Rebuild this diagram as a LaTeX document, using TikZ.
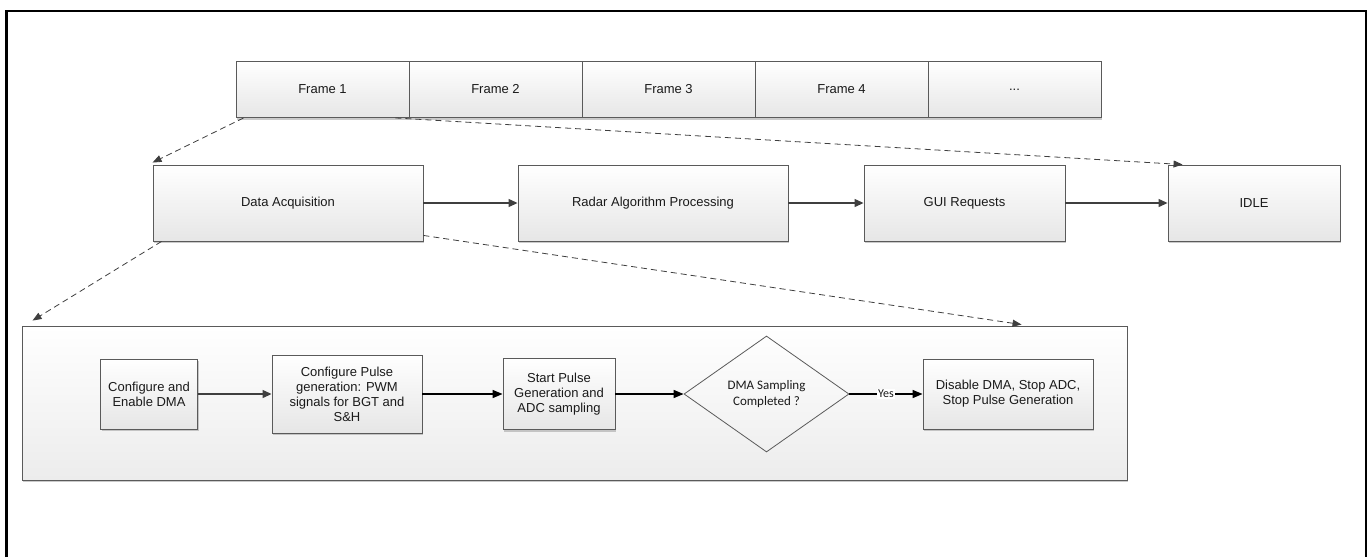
\documentclass[tikz,border=0pt]{standalone}
\usepackage{fontspec}
\setmainfont{Liberation Sans}
\newfontfamily\calibri{Carlito}
\usetikzlibrary{shapes.geometric,arrows.meta,shadows,calc}

\definecolor{boxline}{HTML}{5A5A5A}
\definecolor{boxbot}{HTML}{E6E6E6}
\definecolor{panelbot}{HTML}{ECECEC}
\definecolor{lineclr}{HTML}{3F3F3F}
\definecolor{txt}{HTML}{1A1A1A}

\tikzset{
  box/.style={draw=boxline, line width=0.9pt, top color=white, bottom color=boxbot,
    drop shadow={shadow xshift=1pt, shadow yshift=-2pt, fill=black!35, opacity=0.6},
    align=center, text=txt, font=\fontsize{13}{15}\selectfont, inner sep=0pt},
  panel/.style={draw=boxline, line width=0.9pt, top color=white, bottom color=panelbot,
    drop shadow={shadow xshift=1pt, shadow yshift=-2pt, fill=black!35, opacity=0.6},
    inner sep=0pt},
  decision/.style={draw=boxline, line width=0.8pt, shape=diamond, inner sep=0pt,
    align=center, text=txt, font=\calibri\fontsize{13}{16}\selectfont},
  flow/.style={draw=lineclr, line width=1.2pt, -{Triangle[length=9pt,width=8pt]}},
  flowdark/.style={draw=black, line width=1.5pt, -{Triangle[length=10pt,width=8pt]}},
  zoomln/.style={draw=lineclr, line width=0.8pt, dash pattern=on 6pt off 4pt,
    -{Triangle[length=9pt,width=7pt]}},
}

\begin{document}
\begin{tikzpicture}[x=1pt,y=-1pt]
\useasboundingbox (0,0) rectangle (1370,557);

% page frame, open at the bottom
\draw[line width=2.2pt] (6.5,557) -- (6.5,11) -- (1366,11) -- (1366,557);

% frame sequence
\node[box, minimum width=173, minimum height=56] (f1) at (322.5,89.5) {Frame 1};
\node[box, minimum width=173, minimum height=56] (f2) at (495.5,89.5) {Frame 2};
\node[box, minimum width=173, minimum height=56] (f3) at (668.5,89.5) {Frame 3};
\node[box, minimum width=173, minimum height=56] (f4) at (841.5,89.5) {Frame 4};
\node[box, minimum width=173, minimum height=56] (f5) at (1014.5,89.5) {...};

% tasks within one frame
\node[box, minimum width=270, minimum height=76] (da) at (288,203) {Data Acquisition};
\node[box, minimum width=270, minimum height=76] (rap) at (653,203) {Radar Algorithm Processing};
\node[box, minimum width=201, minimum height=76] (gui) at (964.5,203) {GUI Requests};
\node[box, minimum width=172, minimum height=76] (idle) at (1254,203) {IDLE};

\draw[flow] (da) -- (rap);
\draw[flow] (rap) -- (gui);
\draw[flow] (gui) -- (idle);

% data acquisition detail
\node[panel, minimum width=1105, minimum height=154] (acq) at (574.5,403) {};

\node[box, minimum width=97, minimum height=70] (c1) at (149,394) {Configure and\\Enable DMA};
\node[box, minimum width=150, minimum height=78] (c2) at (347,394) {Configure Pulse\\generation: PWM\\signals for BGT and\\S\&H};
\node[box, minimum width=112, minimum height=71] (c3) at (559,394) {Start Pulse\\Generation and\\ADC sampling};
\node[decision, minimum width=165, minimum height=116] (dec) at (766.5,394) {DMA Sampling\\Completed ?};
\node[box, minimum width=170, minimum height=70] (c5) at (1008,394) {Disable DMA, Stop ADC,\\Stop Pulse Generation};

\draw[flow] (c1) -- (c2);
\draw[flowdark] (c2) -- (c3);
\draw[flowdark] (c3) -- (dec);
\draw[flowdark] (dec) -- node[fill=white, inner sep=1pt, font=\calibri\fontsize{12}{12}\selectfont, text=txt] {Yes} (c5);

% zoom-in guides
\draw[zoomln] ($(f1.south west)+(8,0)$) -- ($(da.north west)+(0,-2)$);
\draw[zoomln] ($(f1.south east)+(-14,0)$) -- ($(idle.north west)+(15,0)$);
\draw[zoomln] ($(da.south west)+(9,0)$) -- ($(acq.north west)+(11,-5)$);
\draw[zoomln] ($(da.south east)+(0,-6)$) -- ($(acq.north west)+(1000,-1)$);
\end{tikzpicture}
\end{document}
